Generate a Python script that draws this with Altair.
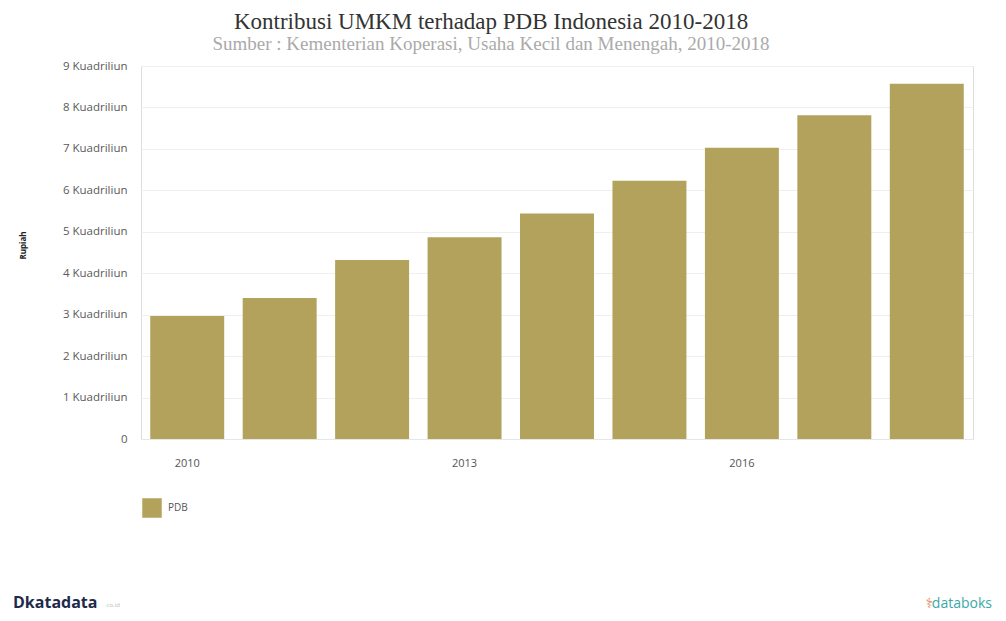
import altair as alt
import pandas as pd

years = ["2010", "2011", "2012", "2013", "2014", "2015", "2016", "2017", "2018"]
pdb_values = [2.97, 3.40, 4.32, 4.87, 5.44, 6.23, 7.03, 7.81, 8.57]
series = ["PDB"] * len(years)
y_ticks = [0, 1, 2, 3, 4, 5, 6, 7, 8, 9]

BAR = "#b2a25c"

df = pd.DataFrame({"Tahun": years, "Nilai": pdb_values, "Seri": series})

bars = alt.Chart(df).mark_bar(color=BAR).encode(
    x=alt.X("Tahun:O",
            scale=alt.Scale(paddingInner=0.2, paddingOuter=0.1),
            axis=alt.Axis(title=None, labelAngle=0, ticks=False, labelPadding=18,
                          labelExpr="(toNumber(datum.value) - 2010) % 3 == 0 ? datum.value : ''",
                          labelFont="Open Sans", labelFontSize=11, labelColor="#555555",
                          domainColor="#e6e6e6", grid=False)),
    y=alt.Y("Nilai:Q",
            scale=alt.Scale(domain=[0, 9], nice=False),
            axis=alt.Axis(values=y_ticks, title="Rupiah", titleFont="Open Sans",
                          titleFontSize=8, titleFontWeight="bold", titleColor="#222222",
                          titleX=-118, titleY=179, titleAngle=-90,
                          titleAlign="center", titleBaseline="middle",
                          labelExpr="datum.value == 0 ? '0' : datum.value + ' Kuadriliun'",
                          labelFont="Open Sans", labelFontSize=11.5, labelColor="#5a5a5a",
                          labelPadding=14, ticks=False, domain=False,
                          gridColor="#efefef")),
    color=alt.Color("Seri:N", scale=alt.Scale(domain=["PDB"], range=[BAR]),
                    legend=alt.Legend(title=None, orient="none", legendX=1, legendY=432,
                                      symbolType="square", symbolSize=380,
                                      symbolStrokeWidth=0, labelFont="Open Sans",
                                      labelFontSize=10, labelColor="#555555",
                                      labelOffset=6)),
)

logo_left = alt.Chart(pd.DataFrame({"t": ["D"]})).mark_text(
    text="Dkatadata", font="Open Sans", fontSize=16, fontWeight="bold",
    color="#1e2a4a", align="left", baseline="middle"
).encode(x=alt.value(-128), y=alt.value(537))

logo_left_small = alt.Chart(pd.DataFrame({"t": ["c"]})).mark_text(
    text=".co.id", font="Open Sans", fontSize=6, color="#bbbbbb",
    align="left", baseline="middle"
).encode(x=alt.value(-36), y=alt.value(539))

logo_right = alt.Chart(pd.DataFrame({"t": ["d"]})).mark_text(
    text="databoks", font="Open Sans", fontSize=14, color="#3aa9a6",
    align="right", baseline="middle"
).encode(x=alt.value(851), y=alt.value(538))

logo_icon = alt.Chart(pd.DataFrame({"t": ["i"]})).mark_text(
    text="\u2695", font="DejaVu Sans", fontSize=14, color="#e8865a",
    align="right", baseline="middle"
).encode(x=alt.value(792), y=alt.value(538))

chart = alt.layer(bars, logo_left, logo_left_small, logo_right, logo_icon).properties(
    width=832, height=373,
    autosize=alt.AutoSizeParams(type="none"),
    padding={"left": 133, "top": 58, "right": 25, "bottom": 174},
    title=alt.TitleParams(
        text="Kontribusi UMKM terhadap PDB Indonesia 2010-2018",
        subtitle="Sumber : Kementerian Koperasi, Usaha Kecil dan Menengah, 2010-2018",
        anchor="middle", dx=-66, offset=6,
        font="Liberation Serif", fontSize=23, fontWeight="normal", color="#333333",
        subtitleFont="Liberation Serif", subtitleFontSize=19, subtitleColor="#aaaaaa",
        subtitlePadding=1,
    ),
).configure_view(stroke="transparent", strokeWidth=0).configure(background="white")

chart.save("out.html", embed_options={"renderer": "svg", "actions": False})
